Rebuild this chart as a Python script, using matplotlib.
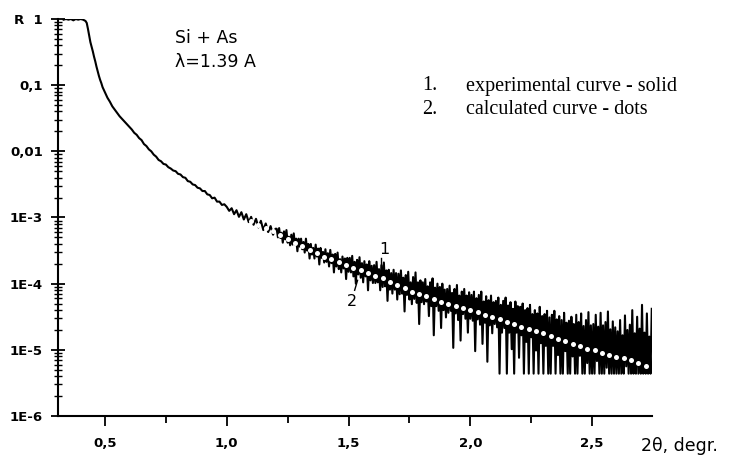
# X-ray reflectivity curve: Si + As, lambda = 1.39 A

import matplotlib.pyplot as plt
import numpy as np
from matplotlib.ticker import FixedLocator, NullFormatter

# experimental curve, low-angle part (2theta, log10 R)
exp_angle_low = [0.33, 0.34, 0.35, 0.36, 0.37, 0.38, 0.39, 0.40, 0.41, 0.42,
                 0.425, 0.43, 0.435, 0.44, 0.445, 0.45, 0.455, 0.46, 0.465, 0.47,
                 0.475, 0.48, 0.485, 0.49, 0.495, 0.50, 0.505, 0.51, 0.52, 0.53,
                 0.54, 0.55, 0.56, 0.57, 0.58, 0.59, 0.60, 0.61, 0.62, 0.63,
                 0.64, 0.65, 0.66, 0.67, 0.68, 0.69, 0.70, 0.71, 0.72, 0.73,
                 0.74, 0.75, 0.76, 0.77, 0.78, 0.79, 0.80, 0.81, 0.82, 0.83,
                 0.84, 0.85, 0.86, 0.87, 0.88, 0.89, 0.90, 0.91, 0.92, 0.93,
                 0.94, 0.95, 0.96, 0.97, 0.98, 0.99, 1.00, 1.01, 1.02, 1.03,
                 1.04, 1.05, 1.06, 1.07, 1.08, 1.09, 1.10, 1.11, 1.12, 1.13,
                 1.14, 1.15, 1.16, 1.17, 1.18, 1.19, 1.20]
exp_logR_low = [-0.01, 0.00, -0.01, 0.00, -0.02, 0.00, -0.01, 0.00, -0.01, -0.03,
                -0.06, -0.15, -0.25, -0.35, -0.42, -0.49, -0.57, -0.64, -0.72, -0.79,
                -0.86, -0.92, -0.97, -1.03, -1.07, -1.11, -1.15, -1.19, -1.25, -1.32,
                -1.37, -1.42, -1.47, -1.51, -1.55, -1.59, -1.63, -1.67, -1.72, -1.75,
                -1.80, -1.83, -1.89, -1.92, -1.97, -2.00, -2.05, -2.08, -2.13, -2.15,
                -2.19, -2.20, -2.24, -2.26, -2.29, -2.30, -2.34, -2.35, -2.39, -2.40,
                -2.45, -2.46, -2.50, -2.51, -2.55, -2.56, -2.60, -2.60, -2.65, -2.66,
                -2.71, -2.70, -2.76, -2.76, -2.81, -2.80, -2.84, -2.90, -2.86, -2.95,
                -2.89, -2.99, -2.92, -3.03, -2.95, -3.07, -2.99, -3.11, -3.02, -3.15,
                -3.05, -3.19, -3.09, -3.22, -3.13, -3.26, -3.17]

# experimental curve, noisy tail, 2theta from 1.205 in steps of 0.005 (20 per row)
exp_logR_tail = [
    -3.17, -3.30, -3.16, -3.31, -3.23, -3.38, -3.21, -3.33, -3.19, -3.38,
    -3.29, -3.42, -3.26, -3.41, -3.24, -3.41, -3.32, -3.51, -3.32, -3.44,
    -3.32, -3.48, -3.37, -3.53, -3.32, -3.50, -3.40, -3.62, -3.40, -3.56,
    -3.46, -3.62, -3.41, -3.59, -3.47, -3.71, -3.46, -3.61, -3.52, -3.68,
    -3.48, -3.67, -3.54, -3.74, -3.49, -3.69, -3.56, -3.83, -3.55, -3.74,
    -3.53, -3.78, -3.63, -3.83, -3.59, -3.77, -3.62, -3.93, -3.61, -3.82,
    -3.61, -3.83, -3.58, -3.89, -3.67, -4.00, -3.64, -3.86, -3.60, -3.91,
    -3.69, -3.98, -3.66, -3.89, -3.71, -4.10, -3.66, -3.95, -3.73, -3.99,
    -3.72, -3.99, -3.67, -3.98, -3.78, -4.10, -3.72, -4.05, -3.68, -4.04,
    -3.80, -4.26, -3.79, -4.09, -3.84, -4.15, -3.79, -4.09, -3.84, -4.24,
    -3.85, -4.16, -3.80, -4.15, -3.91, -4.42, -3.87, -4.17, -3.82, -4.24,
    -3.98, -4.31, -3.90, -4.23, -3.83, -4.29, -3.98, -4.61, -3.95, -4.28,
    -3.98, -4.31, -3.93, -4.27, -4.04, -4.49, -3.98, -4.34, -3.92, -4.78,
    -4.06, -4.34, -4.00, -4.41, -4.05, -4.67, -4.00, -4.40, -4.09, -4.51,
    -4.08, -4.44, -4.03, -4.41, -4.14, -4.97, -4.08, -4.45, -4.02, -4.55,
    -4.18, -4.86, -4.12, -4.46, -4.08, -4.53, -4.18, -4.74, -4.13, -4.53,
    -4.17, -4.56, -4.12, -5.02, -4.22, -4.54, -4.17, -4.62, -4.12, -4.91,
    -4.27, -4.59, -4.19, -5.18, -4.25, -4.63, -4.18, -4.75, -4.28, -4.61,
    -4.26, -4.66, -4.21, -5.36, -4.32, -4.74, -4.26, -4.67, -4.21, -5.36,
    -4.33, -4.74, -4.28, -4.99, -4.38, -5.36, -4.27, -4.74, -4.34, -5.12,
    -4.35, -4.78, -4.30, -5.36, -4.40, -4.88, -4.37, -5.36, -4.32, -4.81,
    -4.46, -5.36, -4.40, -5.01, -4.45, -5.36, -4.35, -4.90, -4.49, -5.36,
    -4.46, -4.94, -4.41, -5.36, -4.51, -5.36, -4.47, -4.94, -4.41, -5.36,
    -4.54, -5.08, -4.49, -5.36, -4.55, -5.36, -4.44, -5.02, -4.59, -5.36,
    -4.56, -5.36, -4.50, -5.10, -4.61, -5.36, -4.47, -5.36, -4.58, -5.09,
    -4.45, -5.36, -4.64, -5.36, -4.55, -5.20, -4.43, -5.36, -4.63, -5.36,
    -4.61, -5.36, -4.47, -5.17, -4.65, -5.36, -4.44, -5.36, -4.63, -5.36,
    -4.58, -5.27, -4.42, -5.36, -4.69, -5.36, -4.57, -5.36, -4.66, -5.36,
    -4.72, -5.36, -4.55, -5.36, -4.78, -5.36, -4.48, -5.25, -4.70, -5.36,
    -4.62, -5.36, -4.40, -5.36, -4.75, -5.36, -4.50, -5.36, -4.68, -5.36,
    -4.32, -5.36, -4.74, -5.36, -4.45, -5.36, -4.80, -5.36, -4.38]

# calculated curve (dots), 2theta from 1.10 in steps of 0.03
calc_logR = [-3.06, -3.11, -3.16, -3.21, -3.27, -3.33, -3.38, -3.43, -3.49, -3.54,
             -3.59, -3.63, -3.68, -3.72, -3.76, -3.80, -3.84, -3.88, -3.92, -3.97,
             -4.02, -4.07, -4.12, -4.16, -4.19, -4.23, -4.27, -4.30, -4.34, -4.37,
             -4.40, -4.43, -4.47, -4.50, -4.54, -4.58, -4.61, -4.65, -4.68, -4.71,
             -4.75, -4.79, -4.83, -4.87, -4.91, -4.94, -4.98, -5.01, -5.05, -5.08,
             -5.11, -5.13, -5.16, -5.20, -5.24]

x_ticks = [0.5, 1.0, 1.5, 2.0, 2.5]
x_labels = ['0,5', '1,0', '1,5', '2,0', '2,5']
y_ticks = [1e-6, 1e-5, 1e-4, 1e-3, 1e-2, 1e-1, 1]
y_labels = ['1E-6', '1E-5', '1E-4', '1E-3', '0,01', '0,1', 'R  1']

exp_angle_tail = np.round(1.205 + 0.005 * np.arange(len(exp_logR_tail)), 3)
calc_angle = np.round(1.10 + 0.03 * np.arange(len(calc_logR)), 2)

W, H = 733, 462
fig = plt.figure(figsize=(W / 100, H / 100), dpi=100)
ax = fig.add_axes([58 / W, 1 - 416 / H, (652 - 58) / W, (416 - 19) / H])

exp_x = np.concatenate([exp_angle_low, exp_angle_tail])
exp_y = 10 ** np.concatenate([exp_logR_low, exp_logR_tail])
ax.plot(exp_x, exp_y, color='black', lw=1.5, zorder=2)
ax.plot(calc_angle, 10 ** np.array(calc_logR), 'o', ms=3.6, mfc='white',
        mec='none', zorder=3)

ax.set_yscale('log')
ax.set_xlim(0.307, 2.746)
ax.set_ylim(1e-6, 1)

for s in ['top', 'right']:
    ax.spines[s].set_visible(False)
for s in ['left', 'bottom']:
    ax.spines[s].set_linewidth(1.5)

ax.set_xticks(x_ticks)
ax.set_xticklabels(x_labels)
ax.xaxis.set_minor_locator(FixedLocator([0.75, 1.25, 1.75, 2.25]))
ax.set_yticks(y_ticks)
ax.set_yticklabels(y_labels)
minor_y = [m * 10.0 ** e for e in range(-6, 0) for m in range(2, 10)]
ax.yaxis.set_minor_locator(FixedLocator(minor_y))
ax.yaxis.set_minor_formatter(NullFormatter())

tick_font = dict(family='DejaVu Sans', weight='bold', size=9.5)
for lab in ax.get_xticklabels() + ax.get_yticklabels():
    lab.set_fontproperties(tick_font)
ax.tick_params(axis='x', which='major', direction='out', length=7, width=1.3, pad=8)
ax.tick_params(axis='x', which='minor', direction='out', length=5, width=1.3)
ax.tick_params(axis='y', which='major', direction='inout', length=10, width=1.3, pad=6)
ax.tick_params(axis='y', which='minor', direction='inout', length=6, width=1.0)

# curve labels
ax.text(1.647, 10 ** -3.49, '1', ha='center', va='center', fontsize=11.5)
ax.plot([1.633, 1.633], [10 ** -3.61, 10 ** -3.75], color='black', lw=1)
ax.text(1.512, 10 ** -4.27, '2', ha='center', va='center', fontsize=11.5)
ax.plot([1.525, 1.537], [10 ** -4.10, 10 ** -3.95], color='black', lw=1)

fig.text(175 / W, 1 - 38 / H, 'Si + As', fontsize=12.5, va='center')
fig.text(175 / W, 1 - 62 / H, 'λ=1.39 A', fontsize=12.5, va='center')

serif = dict(family='Liberation Serif', fontsize=14.5, va='center')
fig.text(422 / W, 1 - 86 / H, '1.', **serif)
fig.text(466 / W, 1 - 86 / H, 'experimental curve - solid', **serif)
fig.text(422 / W, 1 - 110 / H, '2.', **serif)
fig.text(466 / W, 1 - 110 / H, 'calculated curve - dots', **serif)

fig.text(641 / W, 1 - 446 / H, '2θ, degr.', fontsize=12.5, va='center')

fig.savefig('out.png', dpi=100)
